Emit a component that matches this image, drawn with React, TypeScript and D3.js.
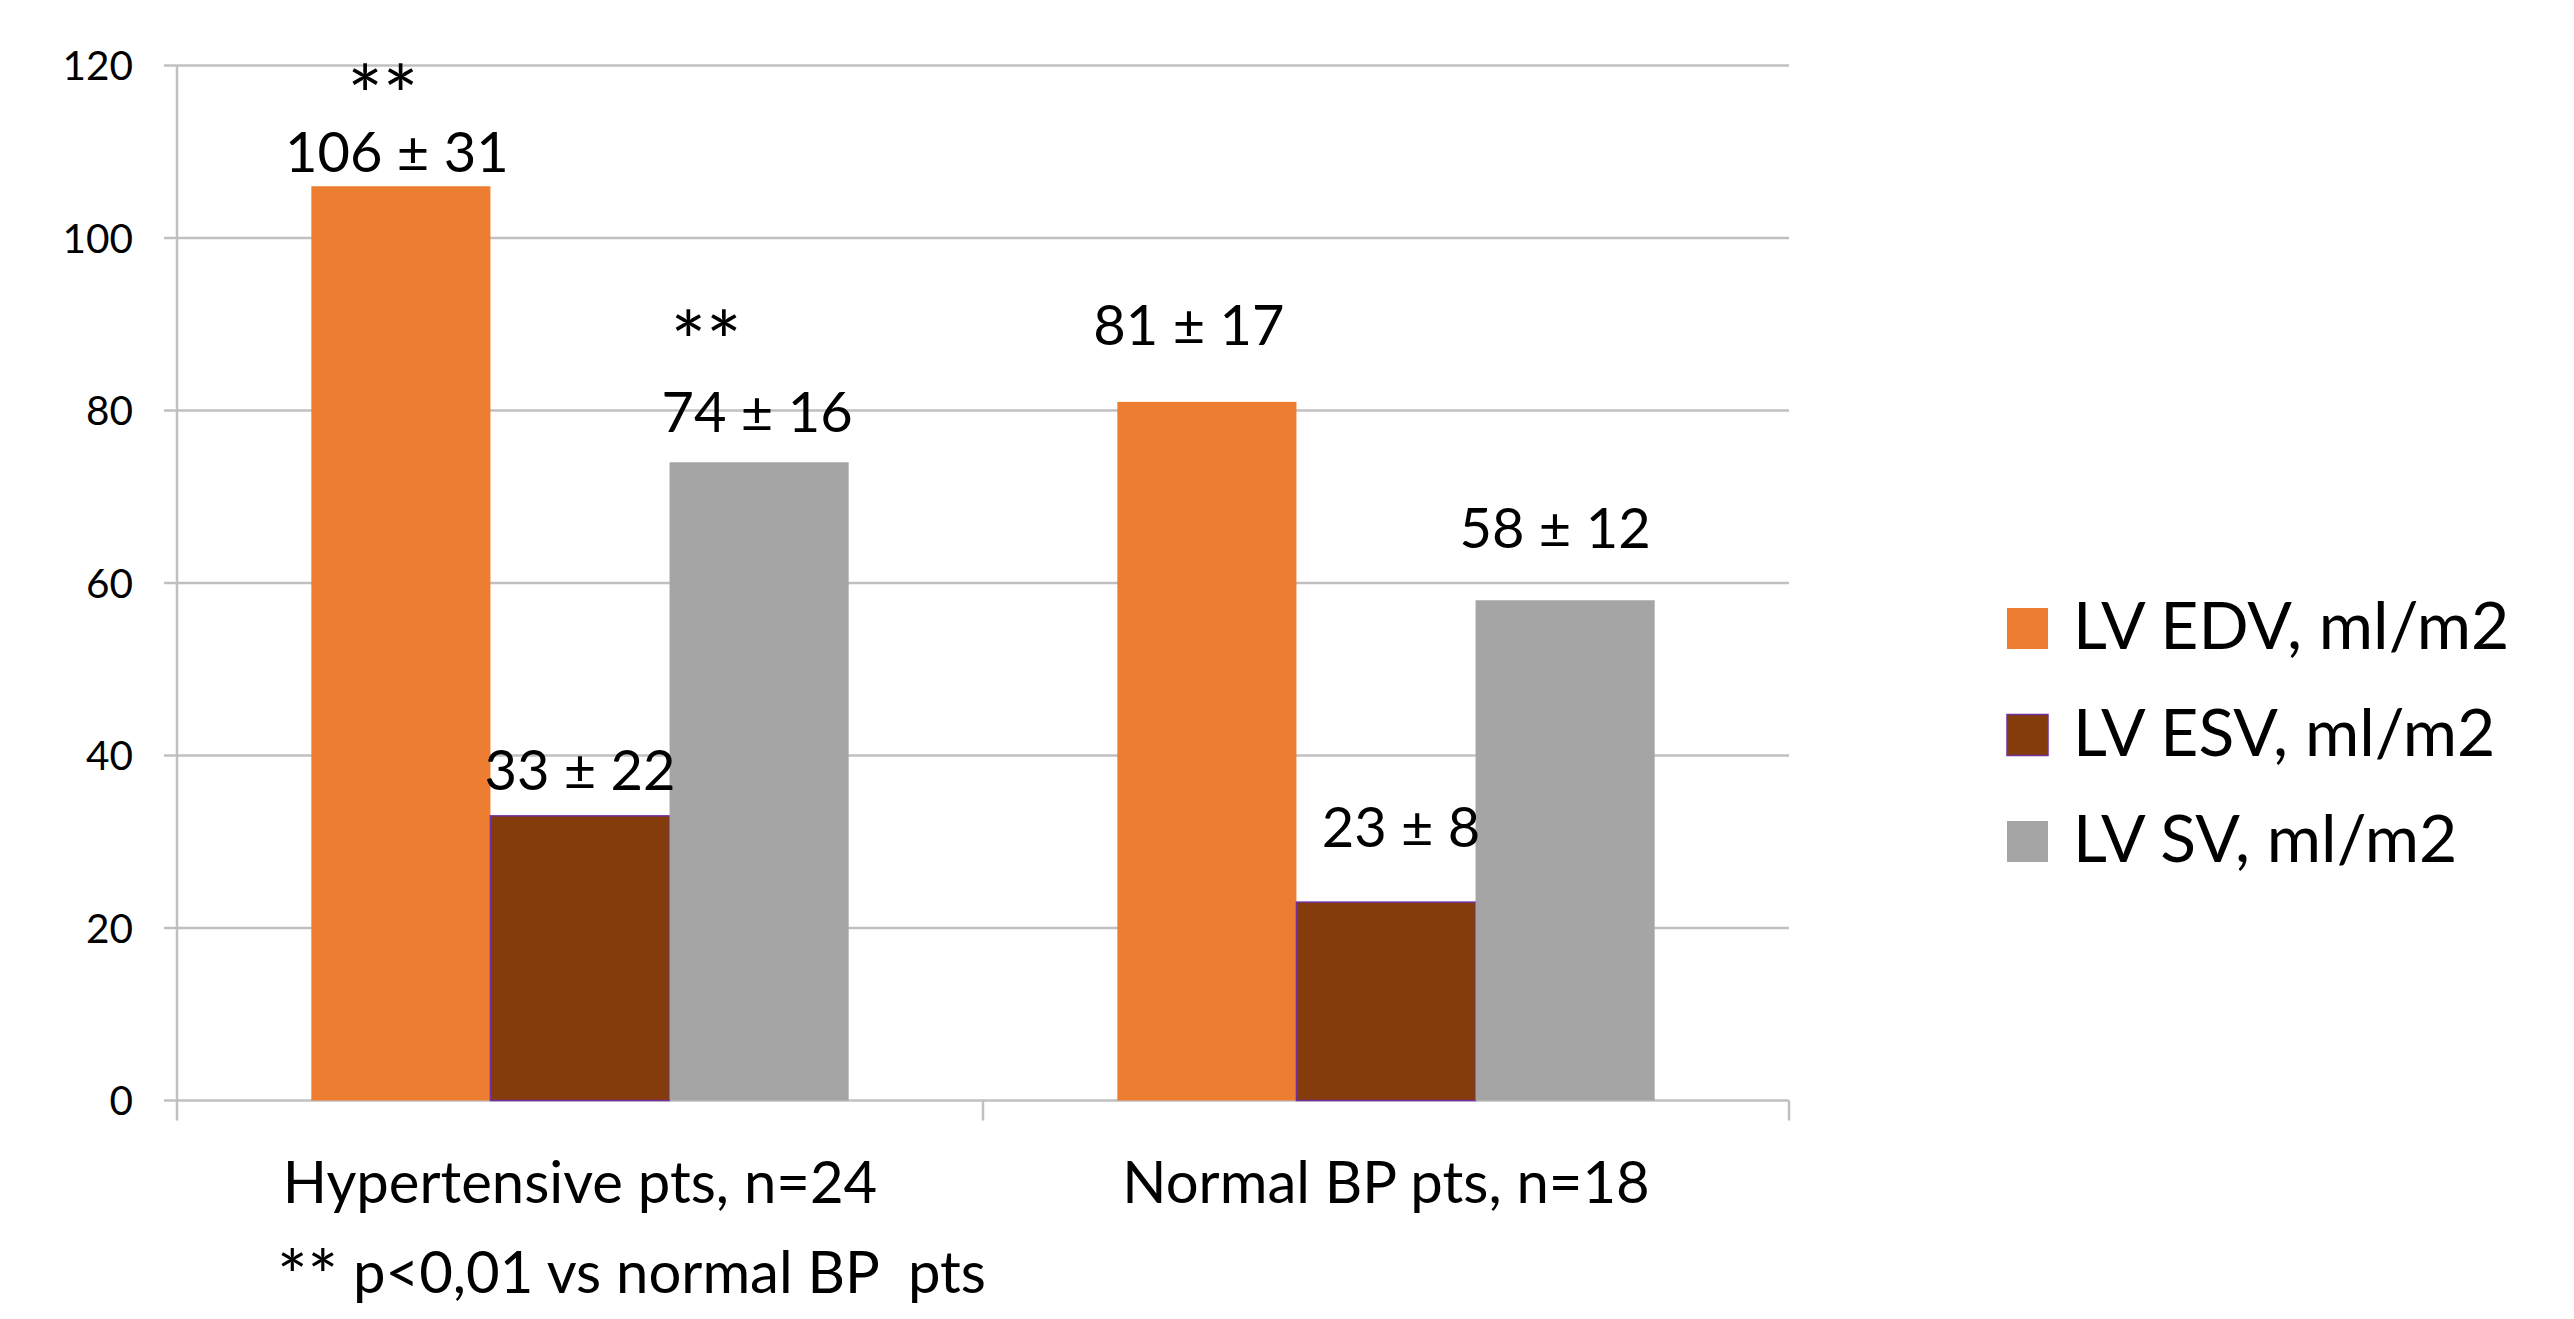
import React from "react";
import * as d3 from "d3";

// Group labels on the x axis
const categories = ["Hypertensive pts, n=24", "Normal BP pts, n=18"];

// Series (legend order)
const seriesNames = ["LV EDV, ml/m2", "LV ESV, ml/m2", "LV SV, ml/m2"];

// Mean values per group
const edvMean = [106, 81];
const esvMean = [33, 23];
const svMean = [74, 58];

// Standard deviations per group
const edvSd = [31, 17];
const esvSd = [22, 8];
const svSd = [16, 12];

// Significance markers per group
const edvMark = ["**", ""];
const esvMark = ["", ""];
const svMark = ["**", ""];

const yTicks = [0, 20, 40, 60, 80, 100, 120];
const footnoteMark = "**";
const footnoteText = " p<0,01 vs normal BP  pts";

// Layout
const W = 2574;
const H = 1319;
const plot = { left: 177, right: 1789, top: 65.5, bottom: 1100.5 };
const colors = ["#ED7D31", "#843C0C", "#A5A5A5"];
const esvStroke = "#7030A0";
const gridColor = "#C0C0C0";
const FONT = "Lato, 'Open Sans', sans-serif";

// Hand-placed label nudges: [dx px, gap px above bar top] per series, per group
const labelNudge = [
  [[-4, 14], [-18, 57]],
  [[0, 26], [15, 55]],
  [[-2, 30], [-10, 52]],
];
// "**" line: [dx px from bar centre, rise px above the value baseline]
const markNudge = [
  [[-18, 46], [0, 46]],
  [[0, 46], [0, 46]],
  [[-53, 60], [0, 46]],
];

export default function App() {
  const means = [edvMean, esvMean, svMean];
  const sds = [edvSd, esvSd, svSd];
  const marks = [edvMark, esvMark, svMark];

  const x0 = d3
    .scaleBand<string>()
    .domain(categories)
    .range([plot.left, plot.right])
    .padding(0);
  const bw = x0.bandwidth();
  const x1 = d3
    .scaleBand<number>()
    .domain(d3.range(seriesNames.length))
    .range([bw / 6, (bw * 5) / 6])
    .padding(0);
  const y = d3.scaleLinear().domain([0, 120]).range([plot.bottom, plot.top]);

  const tickFs = 40.5;
  const labelFs = 56;
  const markFs = 84;
  const catFs = 58;
  const noteFs = 58;
  const noteMarkFs = 72;
  const legendFs = 66;

  const boundaries = [plot.left, ...categories.map((c) => (x0(c) as number) + bw)];

  return (
    <svg
      width={W}
      height={H}
      style={{ position: "absolute", left: 0, top: 0, background: "#fff" }}
      fontFamily={FONT}
    >
      <rect width={W} height={H} fill="#fff" />

      {/* horizontal gridlines with outer tick stubs */}
      {yTicks.map((t) => (
        <g key={t}>
          <line
            x1={plot.left - 13}
            x2={plot.right}
            y1={y(t)}
            y2={y(t)}
            stroke={gridColor}
            strokeWidth={2.5}
          />
          <text
            x={133}
            y={y(t) + 14.5}
            textAnchor="end"
            fontSize={tickFs}
            fill="#000"
          >
            {t}
          </text>
        </g>
      ))}

      {/* vertical axis and category separators */}
      <line
        x1={plot.left}
        x2={plot.left}
        y1={plot.top}
        y2={plot.bottom + 20}
        stroke={gridColor}
        strokeWidth={2.5}
      />
      {boundaries.slice(1).map((bx, i) => (
        <line
          key={i}
          x1={bx}
          x2={bx}
          y1={plot.bottom}
          y2={plot.bottom + 20}
          stroke={gridColor}
          strokeWidth={2.5}
        />
      ))}

      {/* bars */}
      {categories.map((c, ci) =>
        seriesNames.map((s, si) => {
          const v = means[si][ci];
          const bx = (x0(c) as number) + (x1(si) as number);
          return (
            <rect
              key={`${c}-${s}`}
              x={bx}
              y={y(v)}
              width={x1.bandwidth()}
              height={y(0) - y(v)}
              fill={colors[si]}
              stroke={si === 1 ? esvStroke : "none"}
              strokeWidth={si === 1 ? 1.5 : 0}
            />
          );
        })
      )}

      {/* value labels, with the significance marker as an extra first line */}
      {categories.map((c, ci) =>
        seriesNames.map((s, si) => {
          const v = means[si][ci];
          const cx = (x0(c) as number) + (x1(si) as number) + x1.bandwidth() / 2;
          const [dx, gap] = labelNudge[si][ci];
          const base = y(v) - gap;
          const mark = marks[si][ci];
          const [mdx, rise] = markNudge[si][ci];
          return (
            <text
              key={`lbl-${c}-${s}`}
              textAnchor="middle"
              fontSize={labelFs}
              fill="#000"
            >
              {mark && (
                <tspan x={cx + mdx} y={base - rise} fontSize={markFs}>
                  {mark}
                </tspan>
              )}
              <tspan x={cx + dx} y={base}>
                {`${v} ± ${sds[si][ci]}`}
              </tspan>
            </text>
          );
        })
      )}

      {/* category labels */}
      {categories.map((c) => (
        <text
          key={c}
          x={(x0(c) as number) + bw / 2}
          y={1203}
          textAnchor="middle"
          fontSize={catFs}
          fill="#000"
        >
          {c}
        </text>
      ))}

      {/* footnote */}
      <text x={277} y={1293} fontSize={noteFs} fill="#000" style={{ whiteSpace: "pre" }}>
        <tspan fontSize={noteMarkFs} dy={9}>
          {footnoteMark}
        </tspan>
        <tspan dy={-9}>{footnoteText}</tspan>
      </text>

      {/* legend */}
      {seriesNames.map((s, i) => {
        const baseY = 649 + i * 106.5;
        return (
          <g key={s}>
            <rect
              x={2007}
              y={baseY - 41}
              width={41}
              height={41}
              fill={colors[i]}
              stroke={i === 1 ? esvStroke : "none"}
              strokeWidth={i === 1 ? 1.5 : 0}
            />
            <text x={2073} y={baseY} fontSize={legendFs} fill="#000">
              {s}
            </text>
          </g>
        );
      })}
    </svg>
  );
}
